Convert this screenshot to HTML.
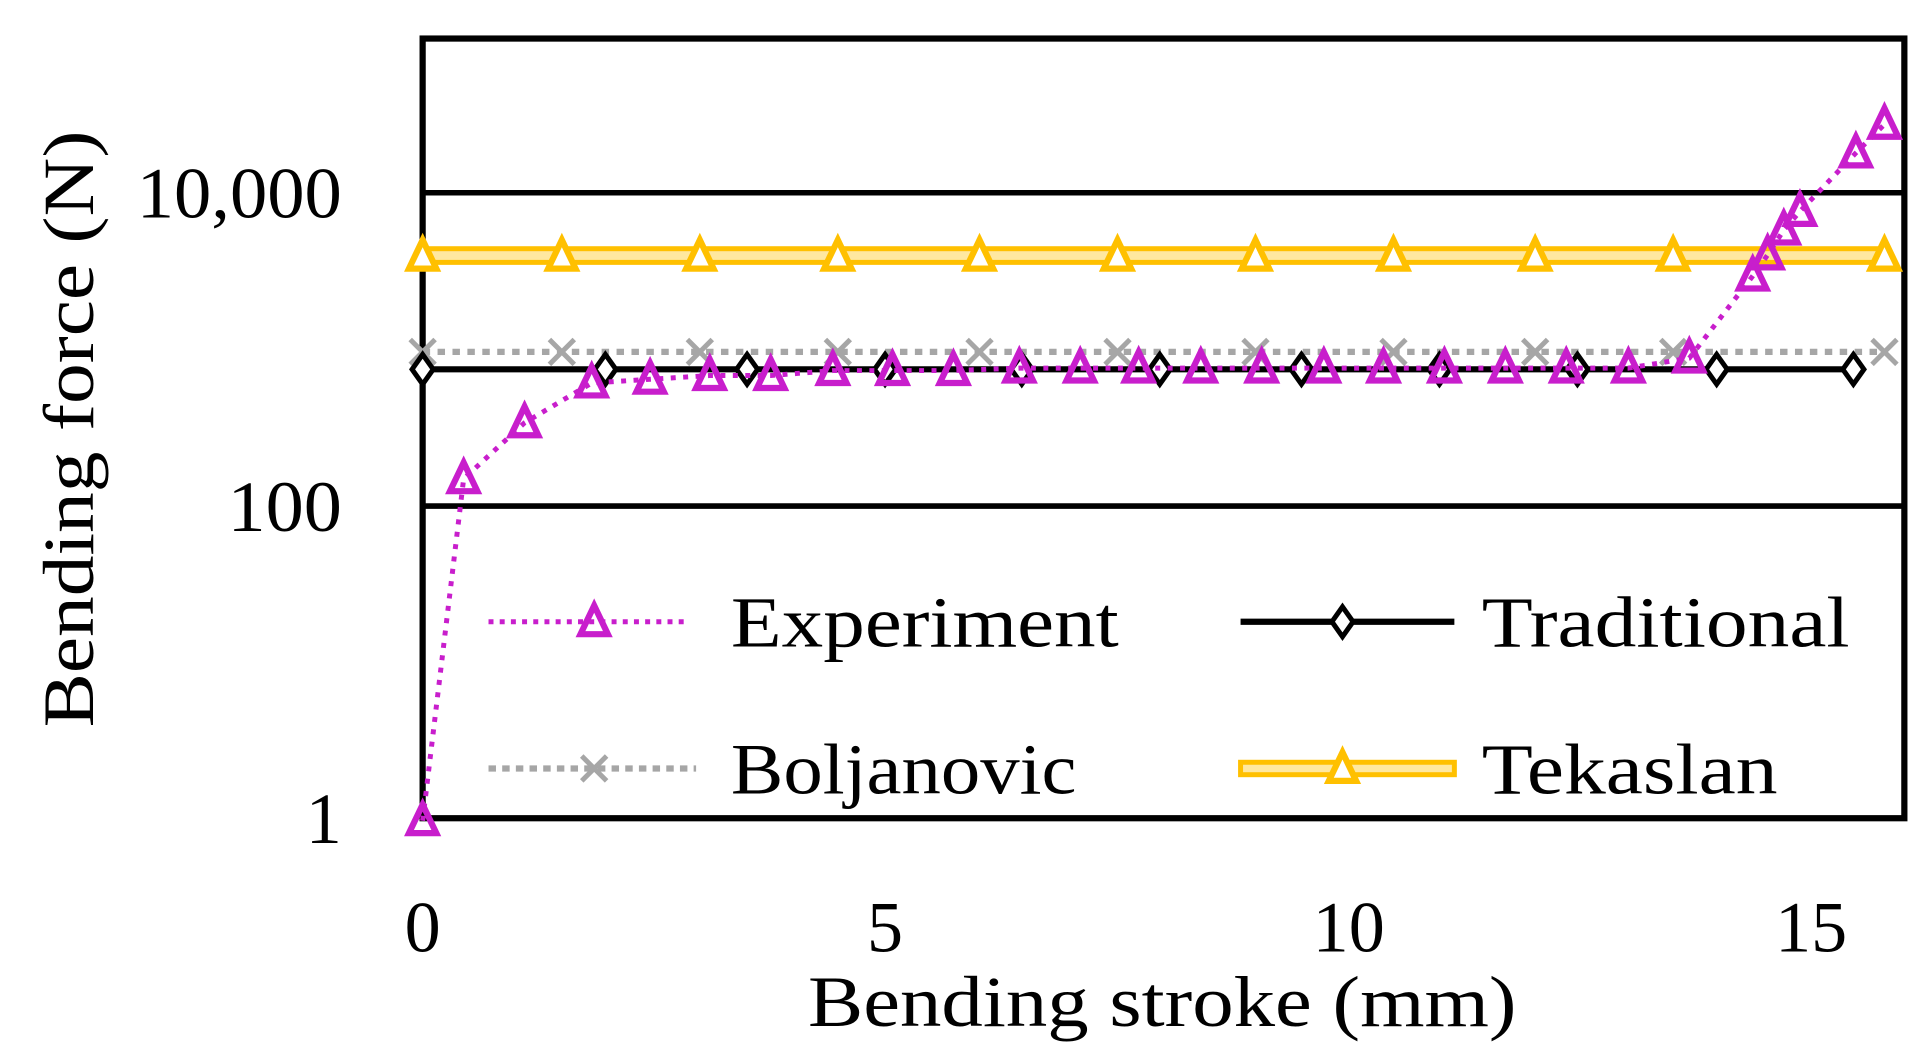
<!DOCTYPE html>
<html><head><meta charset="utf-8"><style>
html,body{margin:0;padding:0;background:#fff;overflow:hidden}
svg{display:block}
text{font-family:"Liberation Serif",serif;fill:#000}
</style></head><body>
<svg width="1923" height="1052" viewBox="0 0 1547 846" preserveAspectRatio="none" xmlns="http://www.w3.org/2000/svg">
<defs>
<g id="triy"><polygon points="0,-13 -11,10 11,10" fill="#fff" stroke="#FFC000" stroke-width="5"/></g>
<g id="trim"><polygon points="0,-13 -11,10 11,10" fill="none" stroke="#C81ECC" stroke-width="5"/></g>
<g id="dia"><polygon points="0,-12 8.5,0 0,12 -8.5,0" fill="#fff" stroke="#000" stroke-width="4"/></g>
<g id="crs"><path d="M-10,-10L10,10M10,-10L-10,10" stroke="#A6A6A6" stroke-width="4"/></g>
</defs>
<line x1="340" y1="155" x2="1532" y2="155" stroke="#000" stroke-width="4.5"/>
<line x1="340" y1="407" x2="1532" y2="407" stroke="#000" stroke-width="4.5"/>
<rect x="340" y="31" width="1192" height="627" fill="none" stroke="#000" stroke-width="5"/>

<rect x="340" y="200" width="1176" height="11" fill="#FFE8A0" stroke="#FFC000" stroke-width="4"/>
<g>
<use href="#triy" x="340" y="206"/><use href="#triy" x="452" y="206"/><use href="#triy" x="563" y="206"/><use href="#triy" x="674" y="206"/><use href="#triy" x="788" y="206"/><use href="#triy" x="899" y="206"/><use href="#triy" x="1010" y="206"/><use href="#triy" x="1121" y="206"/><use href="#triy" x="1235" y="206"/><use href="#triy" x="1346" y="206"/><use href="#triy" x="1516" y="206"/>
</g>
<line x1="340" y1="283" x2="1516" y2="283" stroke="#A6A6A6" stroke-width="5" stroke-dasharray="6,6"/>
<g>
<use href="#crs" x="340" y="283"/><use href="#crs" x="452" y="283"/><use href="#crs" x="563" y="283"/><use href="#crs" x="674" y="283"/><use href="#crs" x="788" y="283"/><use href="#crs" x="899" y="283"/><use href="#crs" x="1010" y="283"/><use href="#crs" x="1121" y="283"/><use href="#crs" x="1235" y="283"/><use href="#crs" x="1346" y="283"/><use href="#crs" x="1516" y="283"/>
</g>
<line x1="340" y1="297" x2="1491" y2="297" stroke="#000" stroke-width="5"/>
<g>
<use href="#dia" x="340" y="297"/><use href="#dia" x="487" y="297"/><use href="#dia" x="601" y="297"/><use href="#dia" x="712" y="297"/><use href="#dia" x="822" y="297"/><use href="#dia" x="933" y="297"/><use href="#dia" x="1047" y="297"/><use href="#dia" x="1158" y="297"/><use href="#dia" x="1269" y="297"/><use href="#dia" x="1381" y="297"/><use href="#dia" x="1491" y="297"/>
</g>
<polyline fill="none" stroke="#C81ECC" stroke-width="4" stroke-dasharray="4,6" points="340,660 373,385 422,340 476,308 523,305 571,302 620,302 670,298 718,298 767,298 820,296 869,296 916,296 966,296 1015,296 1065,296 1113,296 1162,296 1211,296 1260,296 1310,296 1359,288 1410,222 1422,205 1435,185 1448,170 1493,123 1516,100"/>
<g>
<use href="#trim" x="340" y="660"/><use href="#trim" x="373" y="385"/><use href="#trim" x="422" y="340"/><use href="#trim" x="476" y="308"/><use href="#trim" x="523" y="305"/><use href="#trim" x="571" y="302"/><use href="#trim" x="620" y="302"/><use href="#trim" x="670" y="298"/><use href="#trim" x="718" y="298"/><use href="#trim" x="767" y="298"/><use href="#trim" x="820" y="296"/><use href="#trim" x="869" y="296"/><use href="#trim" x="916" y="296"/><use href="#trim" x="966" y="296"/><use href="#trim" x="1015" y="296"/><use href="#trim" x="1065" y="296"/><use href="#trim" x="1113" y="296"/><use href="#trim" x="1162" y="296"/><use href="#trim" x="1211" y="296"/><use href="#trim" x="1260" y="296"/><use href="#trim" x="1310" y="296"/><use href="#trim" x="1359" y="288"/><use href="#trim" x="1410" y="222"/><use href="#trim" x="1422" y="205"/><use href="#trim" x="1435" y="185"/><use href="#trim" x="1448" y="170"/><use href="#trim" x="1493" y="123"/><use href="#trim" x="1516" y="100"/>
</g>

<line x1="393" y1="500" x2="555" y2="500" stroke="#C81ECC" stroke-width="4" stroke-dasharray="4,5"/>
<use href="#trim" x="478" y="500"/>
<text x="588" y="520" font-size="58" textLength="312" lengthAdjust="spacingAndGlyphs">Experiment</text>
<line x1="998" y1="500" x2="1170" y2="500" stroke="#000" stroke-width="5"/>
<use href="#dia" x="1080" y="500"/>
<text x="1192" y="520" font-size="58" textLength="296" lengthAdjust="spacingAndGlyphs">Traditional</text>
<line x1="393" y1="618" x2="560" y2="618" stroke="#A6A6A6" stroke-width="5" stroke-dasharray="6,5"/>
<use href="#crs" x="478" y="618"/>
<text x="588" y="638" font-size="58" textLength="278" lengthAdjust="spacingAndGlyphs">Boljanovic</text>
<rect x="998" y="613" width="172" height="10" fill="#FFE8A0" stroke="#FFC000" stroke-width="4"/>
<use href="#triy" x="1080" y="618"/>
<text x="1192" y="638" font-size="58" textLength="238" lengthAdjust="spacingAndGlyphs">Tekaslan</text>

<text x="275" y="175" font-size="58" text-anchor="end" textLength="165" lengthAdjust="spacingAndGlyphs">10,000</text>
<text x="275" y="427" font-size="58" text-anchor="end" textLength="92" lengthAdjust="spacingAndGlyphs">100</text>
<text x="275" y="678" font-size="58" text-anchor="end">1</text>
<text x="340" y="765" font-size="58" text-anchor="middle">0</text>
<text x="712" y="765" font-size="58" text-anchor="middle">5</text>
<text x="1085" y="765" font-size="58" text-anchor="middle">10</text>
<text x="1457" y="765" font-size="58" text-anchor="middle">15</text>
<text x="935" y="825" font-size="58" text-anchor="middle" textLength="570" lengthAdjust="spacingAndGlyphs">Bending stroke (mm)</text>
<text transform="translate(75,345) rotate(-90)" font-size="58" text-anchor="middle" textLength="480" lengthAdjust="spacingAndGlyphs">Bending force (N)</text>
</svg>
</body></html>
